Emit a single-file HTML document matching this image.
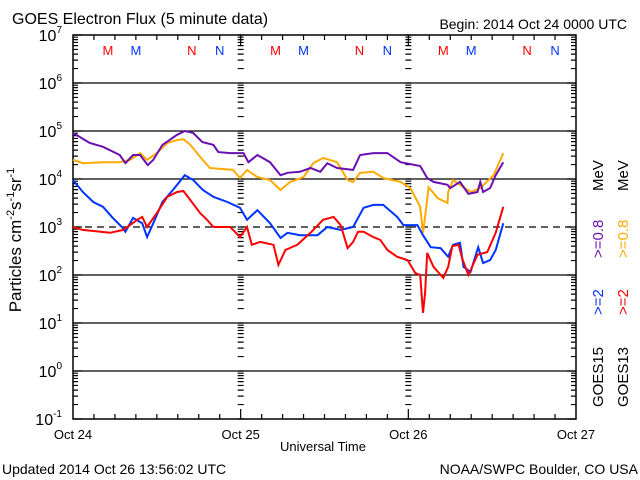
<!DOCTYPE html>
<html><head><meta charset="utf-8"><style>
html,body{margin:0;padding:0;background:#fff;}
svg{display:block;font-family:"Liberation Sans",sans-serif;}
</style></head><body>
<svg id="chart" width="640" height="480" viewBox="0 0 640 480" xmlns="http://www.w3.org/2000/svg">
<rect x="0" y="0" width="640" height="480" fill="#fff"/>
<g id="grid"></g><g id="ticks"></g><g id="series"></g><g id="labels"></g>
<text x="12" y="24" font-size="16">GOES Electron Flux (5 minute data)</text>
<text x="627" y="29" font-size="14" text-anchor="end">Begin: 2014 Oct 24 0000 UTC</text>
<text x="323" y="451" font-size="13" text-anchor="middle">Universal Time</text>
<text x="2" y="474" font-size="14">Updated 2014 Oct 26 13:56:02 UTC</text>
<text x="638" y="474" font-size="14" text-anchor="end">NOAA/SWPC Boulder, CO USA</text>
<text transform="translate(21,240) rotate(-90)" font-size="17" text-anchor="middle">Particles cm<tspan font-size="11" dy="-7">-2</tspan><tspan dy="7">s</tspan><tspan font-size="11" dy="-7">-1</tspan><tspan dy="7">sr</tspan><tspan font-size="11" dy="-7">-1</tspan></text>
<g font-size="15">
<text transform="translate(603,407) rotate(-90)" fill="#000">GOES15</text>
<text transform="translate(603,315) rotate(-90)" fill="#0033ff">&gt;=2</text>
<text transform="translate(603,258) rotate(-90)" fill="#6a0fb0">&gt;=0.8</text>
<text transform="translate(603,191) rotate(-90)" fill="#000">MeV</text>
</g>
<g font-size="15">
<text transform="translate(628,407) rotate(-90)" fill="#000">GOES13</text>
<text transform="translate(628,315) rotate(-90)" fill="#ff0000">&gt;=2</text>
<text transform="translate(628,258) rotate(-90)" fill="#ffaa00">&gt;=0.8</text>
<text transform="translate(628,191) rotate(-90)" fill="#000">MeV</text>
</g>
</svg>
<script>
// data: hours since 2014 Oct 24 00:00, values log10(flux)
const purpleT=[0,2.4,4.3,6.7,7.5,8.6,9.6,10.7,11.5,12.8,14.9,16.0,17.2,18.5,20.1,20.8,22.5,24.4,25.1,26.4,28.2,29.7,30.7,32.5,34.0,35.4,36.4,37.8,40.1,41.1,43.0,45.0,46.9,49.7,50.7,51.6,53.6,54.0,55.4,56.6,57.9,58.3,58.7,59.7,60.5,61.6];
const purpleV=[4.96,4.75,4.67,4.50,4.33,4.50,4.50,4.29,4.40,4.71,4.92,5.00,4.96,4.77,4.71,4.56,4.54,4.54,4.35,4.50,4.35,4.08,4.13,4.15,4.23,4.15,4.33,4.23,4.19,4.50,4.54,4.54,4.35,4.27,4.02,3.94,3.88,3.81,3.94,3.69,3.73,3.94,3.73,3.81,4.08,4.35];
const orangeT=[0,1.4,4.3,6.7,8.2,9.6,10.6,12.0,13.5,14.9,15.8,16.8,18.2,19.6,21.1,22.9,23.9,24.9,26.4,28.2,29.7,31.1,33.0,34.4,35.8,37.8,39.3,40.1,41.1,43.0,44.4,46.9,48.3,49.7,50.1,50.4,50.9,52.2,53.6,53.7,54.4,55.4,56.9,58.3,60.2,61.6];
const orangeV=[4.40,4.33,4.35,4.35,4.40,4.54,4.40,4.54,4.75,4.81,4.83,4.71,4.46,4.23,4.21,4.19,4.02,4.19,4.04,3.98,3.77,3.94,4.04,4.33,4.44,4.35,3.98,3.94,4.13,4.15,4.02,3.94,3.81,3.42,2.88,3.21,3.83,3.60,3.50,3.73,3.98,3.88,3.73,3.81,4.08,4.54];
const blueT=[0,1.4,2.9,4.3,5.7,7.0,7.5,8.6,9.9,10.6,11.5,12.8,14.3,16.0,17.2,18.6,20.1,22.1,23.9,24.9,26.4,28.2,29.7,30.7,32.5,35.0,36.4,38.3,40.1,41.6,43.0,44.4,46.4,47.3,49.3,50.1,51.2,52.6,53.7,54.4,55.4,55.9,56.9,58.0,58.7,59.7,60.5,61.6];
const blueV=[3.98,3.73,3.52,3.42,3.19,3.00,2.90,3.19,3.08,2.79,3.08,3.52,3.77,4.08,3.98,3.77,3.63,3.52,3.40,3.15,3.35,3.08,2.77,2.88,2.83,2.83,3.00,2.94,3.00,3.40,3.46,3.46,3.21,3.04,3.04,2.83,2.58,2.56,2.38,2.63,2.67,2.17,2.06,2.58,2.25,2.31,2.52,3.08];
const redT=[0,1.4,5.3,7.2,9.2,9.9,10.6,12.0,13.5,14.9,15.8,16.8,18.2,19.2,20.1,22.5,23.9,24.9,25.6,26.8,28.7,29.4,30.4,32.1,34.0,35.8,37.3,38.3,39.3,40.1,40.8,41.6,43.0,44.0,45.0,46.4,47.9,49.0,49.7,50.1,50.4,50.7,51.6,53.0,53.7,54.3,55.2,55.7,56.6,57.9,59.3,60.5,61.6];
const redV=[3.00,2.94,2.88,2.94,3.15,3.21,3.00,3.29,3.63,3.73,3.75,3.56,3.29,3.15,3.00,3.00,2.79,3.00,2.63,2.69,2.63,2.21,2.52,2.63,2.88,3.15,3.21,3.04,2.56,2.69,2.90,2.90,2.79,2.73,2.52,2.38,2.31,2.04,2.00,1.21,1.63,2.46,2.17,1.94,2.17,2.60,2.63,2.35,2.00,2.42,2.48,2.88,3.42];
const yTickExps=[7,6,5,4,3,2,1,0,-1];
const dayLabels=["Oct 24","Oct 25","Oct 26","Oct 27"];

const NS="http://www.w3.org/2000/svg";
const X0=73,X1=576,Y7=35,DEC=48;
const xs=h=>X0+h*(X1-X0)/72;
const ys=l=>Y7+(7-l)*DEC;
function mk(tag,attrs,parent){const e=document.createElementNS(NS,tag);for(const k in attrs)e.setAttribute(k,attrs[k]);parent.appendChild(e);return e;}
const grid=document.getElementById('grid'),ticks=document.getElementById('ticks'),series=document.getElementById('series'),labels=document.getElementById('labels');

// decade lines
yTickExps.forEach(e=>{
  if(e<7&&e>-1){const l=mk('line',{x1:X0,x2:X1,y1:ys(e),y2:ys(e),stroke:'#000','stroke-width':1.3,'stroke-dasharray':e===3?'7,5':'none'},grid);
  
  }
  const t=mk('text',{x:62,y:ys(e)+6,'font-size':16,'text-anchor':'end'},labels);
  
  
  t.textContent='10';
  const s=mk('tspan',{'font-size':10,dy:-8},t);s.textContent=String(e);
});
// frame
const fr=mk('rect',{x:X0,y:Y7,width:X1-X0,height:ys(-1)-Y7,fill:'none',stroke:'#000','stroke-width':1.5},grid);


// minor log ticks
let tp='';
for(let e=-1;e<7;e++){for(let m=2;m<=9;m++){const y=ys(e+Math.log10(m));
  tp+=`M${X0} ${y}h5M${X1} ${y}h-5`;
  [1,2].forEach(d=>{const x=xs(d*24);tp+=`M${x-3} ${y}h6`;});}}
for(let e=-1;e<=7;e++){const y=ys(e);tp+=`M${X0} ${y}h9M${X1} ${y}h-9`;[1,2].forEach(d=>{const x=xs(d*24);tp+=`M${x-3} ${y}h6`;});}
for(let h=3;h<72;h+=3){const x=xs(h);const L=h%24===0?10:5;tp+=`M${x} ${ys(-1)}v${-L}M${x} ${Y7}v${L}`;}
const tk=mk('path',{d:tp,stroke:'#000','stroke-width':1.2,fill:'none'},ticks);


// day labels
dayLabels.forEach((d,i)=>{const t=mk('text',{x:xs(i*24),y:439,'font-size':13,'text-anchor':'middle'},labels);
  
  
  t.textContent=d;});
// M/N markers
for(let d=0;d<3;d++){[[5,'M','#ff0000'],[9,'M','#0033ff'],[17,'N','#ff0000'],[21,'N','#0033ff']].forEach(m=>{
  const t=mk('text',{x:xs(d*24+m[0]),y:55,'font-size':13,'text-anchor':'middle',fill:m[2]},labels);
  
  
  t.textContent=m[1];});}
// series
function draw(T,V,col,name){let d='';for(let i=0;i<T.length;i++){d+=(i?'L':'M')+xs(T[i]).toFixed(1)+' '+ys(V[i]).toFixed(1);}
  const p=mk('path',{d:d,stroke:col,'stroke-width':2,fill:'none','stroke-linejoin':'miter'},series);
  
  }
draw(orangeT,orangeV,'#ffaa00','series-goes13-0.8mev');
draw(purpleT,purpleV,'#6a0fb0','series-goes15-0.8mev');
draw(blueT,blueV,'#0033ff','series-goes15-2mev');
draw(redT,redV,'#ff0000','series-goes13-2mev');
</script>
</body></html>
